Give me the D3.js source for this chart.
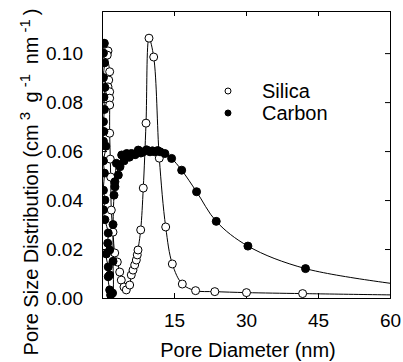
<!DOCTYPE html>
<html>
<head>
<meta charset="utf-8">
<script src="https://cdn.jsdelivr.net/npm/d3@7"></script>
<style>
  body { margin: 0; background: #fff; }
  text { font-family: "Liberation Sans", Arial, sans-serif; fill: #000; }
</style>
</head>
<body>
<div id="chart"></div>
<script>
// pore diameter (nm), distribution (cm3 g-1 nm-1)
const silicaX = [0.5, 1.25, 1.1, 1.6, 1.4, 1.25, 1.6, 1.6, 1.6, 1.6, 1.73, 1.81, 1.94, 2.29, 2.65, 3.19, 3.69, 4.02, 4.58,
                 5.06, 5.77, 6.1, 6.46, 6.81, 7.15, 7.35, 7.5, 8.06, 8.6, 9.17, 9.79, 10.77, 11.94, 13.27, 14.65, 16.73,
                 19.5, 23.5, 30.1, 41.8, 66];
const silicaY = [0.104, 0.1009, 0.0992, 0.0924, 0.089, 0.0862, 0.0842, 0.0816, 0.0788, 0.0673, 0.0567, 0.0494, 0.0359,
                 0.0269, 0.0184, 0.0147, 0.0106, 0.0073, 0.0045, 0.0033, 0.0053, 0.0094, 0.0114, 0.0135, 0.0155, 0.0176,
                 0.0196, 0.0278, 0.0449, 0.0714, 0.1061, 0.0984, 0.0571, 0.029, 0.0139, 0.0057, 0.003, 0.0026, 0.0022,
                 0.0018, 0.0011];

const carbonX = [0.4, 0.3, 0.5, 0.3, 0.6, 0.4, 0.5, 0.3, 0.4, 0.3, 0.8, 0.3, 0.5, 0.3, 0.6, 0.3, 0.6, 1.3, 1.2, 1.6,
                 0.9, 1.3, 1.6, 1.3, 1.6, 1.8, 2.2, 2.3, 2.3, 2.5, 2.7, 2.7, 3.0, 3.4, 3.75, 4.1, 4.6, 5.15, 5.7, 6.2,
                 6.9, 7.56, 8.1, 8.6, 9.3, 10.0, 10.5, 11.0, 11.6, 12.1, 13.1, 14.5, 16.6, 19.7, 23.8, 30.4, 42.4, 66];
const carbonY = [0.104, 0.1, 0.096, 0.09, 0.086, 0.082, 0.077, 0.072, 0.068, 0.064, 0.062, 0.056, 0.051, 0.044, 0.04,
                 0.036, 0.032, 0.0265, 0.0224, 0.0196, 0.018, 0.0127, 0.0094, 0.0087, 0.0033, 0.0012, 0.002, 0.015,
                 0.03, 0.042, 0.0475, 0.0454, 0.055, 0.0502, 0.0536, 0.0584, 0.056, 0.059, 0.0575, 0.059, 0.0585,
                 0.0604, 0.0592, 0.0597, 0.0605, 0.0597, 0.0601, 0.0597, 0.0602, 0.0597, 0.059, 0.057, 0.0522,
                 0.0434, 0.0313, 0.0212, 0.012, 0.0045];

const xTicks = [15, 30, 45, 60];
const yTicks = [0, 0.02, 0.04, 0.06, 0.08, 0.10];
const legendNames = ["Silica", "Carbon"];

const margin = { top: 11, right: 13, bottom: 64, left: 102 },
      width  = 403 - margin.left - margin.right,
      height = 362 - margin.top - margin.bottom;

const svg = d3.select("#chart")
  .append("svg")
    .attr("width", 403)
    .attr("height", 362)
  .append("g")
    .attr("transform", `translate(${margin.left},${margin.top})`);

const x = d3.scaleLinear().domain([0, 60]).range([0, width]);
const y = d3.scaleLinear().domain([0, 0.1172]).range([height, 0]);

svg.append("clipPath").attr("id", "clip")
  .append("rect").attr("width", width).attr("height", height);

// axes with inward ticks on all four sides
svg.append("g")
  .attr("transform", `translate(0,${height})`)
  .call(d3.axisBottom(x).tickValues(xTicks).tickSize(-5).tickPadding(16).tickFormat(d3.format("d")))
  .call(g => g.selectAll("text").attr("font-size", 19));
svg.append("g")
  .call(d3.axisTop(x).tickValues(xTicks).tickSize(-5).tickFormat(""));
svg.append("g")
  .call(d3.axisLeft(y).tickValues(yTicks).tickSize(-5).tickPadding(19).tickFormat(d3.format(".2f")))
  .call(g => g.selectAll("text").attr("font-size", 19));
svg.append("g")
  .attr("transform", `translate(${width},0)`)
  .call(d3.axisRight(y).tickValues(yTicks).tickSize(-5).tickFormat(""));
svg.selectAll(".domain").attr("stroke", "#000");
svg.selectAll(".tick line").attr("stroke", "#000");

const line = d3.line()
  .x(d => x(d[0]))
  .y(d => y(d[1]))
  .curve(d3.curveCatmullRom);

const series = [
  { data: d3.zip(silicaX, silicaY), fill: "#fff" },
  { data: d3.zip(carbonX, carbonY), fill: "#000" }
];

const plot = svg.append("g").attr("clip-path", "url(#clip)");

series.forEach(s => {
  plot.append("path")
    .datum(s.data)
    .attr("fill", "none")
    .attr("stroke", "#000")
    .attr("stroke-width", 1)
    .attr("d", line);
});

series.forEach(s => {
  plot.selectAll(null)
    .data(s.data)
    .enter()
    .append("circle")
      .attr("cx", d => x(d[0]))
      .attr("cy", d => y(d[1]))
      .attr("r", 4)
      .attr("fill", s.fill)
      .attr("stroke", "#000")
      .attr("stroke-width", 1);
});

// legend
const legend = svg.append("g").attr("transform", "translate(126,80)");
legendNames.forEach((name, i) => {
  const row = legend.append("g").attr("transform", `translate(0,${i * 22})`);
  row.append("circle")
    .attr("r", 3)
    .attr("fill", series[i].fill)
    .attr("stroke", "#000");
  row.append("text")
    .attr("x", 34)
    .attr("dy", "0.35em")
    .attr("font-size", 20)
    .text(name);
});

// axis titles
svg.append("text")
  .attr("x", width / 2 + 2)
  .attr("y", height + 59)
  .attr("text-anchor", "middle")
  .attr("font-size", 20)
  .text("Pore Diameter (nm)");

const yt = svg.append("text")
  .attr("transform", `translate(${-64},171) rotate(-90)`)
  .attr("text-anchor", "middle")
  .attr("font-size", 20);
yt.append("tspan").text("Pore Size Distribution (cm");
yt.append("tspan").attr("dx", 4).attr("baseline-shift", "super").attr("font-size", 15).text("3");
yt.append("tspan").attr("dx", 4).text(" g");
yt.append("tspan").attr("dx", 4).attr("baseline-shift", "super").attr("font-size", 15).text("-1");
yt.append("tspan").attr("dx", 4).text(" nm");
yt.append("tspan").attr("dx", 4).attr("baseline-shift", "super").attr("font-size", 15).text("-1");
yt.append("tspan").attr("dx", 4).text(")");
</script>
</body>
</html>
